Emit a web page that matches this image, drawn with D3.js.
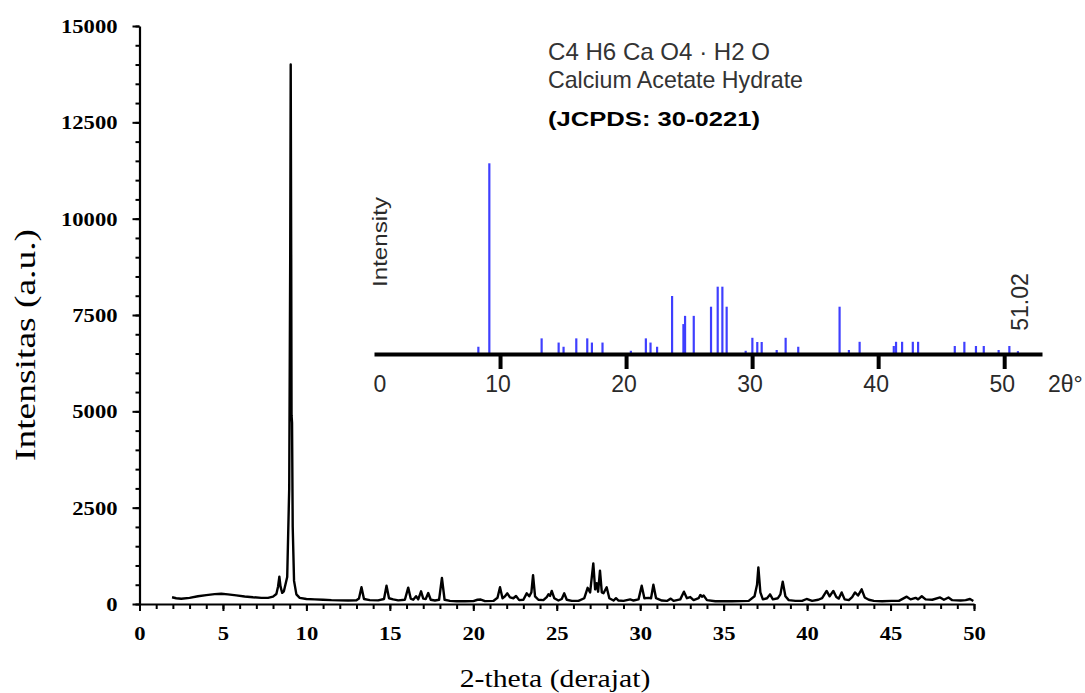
<!DOCTYPE html>
<html>

<head>
    <meta charset="UTF-8">
    <style>
        body {
            margin: 0;
            background-color: white;
        }

        .serif {
            font-family: "Liberation Serif", "Times New Roman", serif;
        }

        .sans {
            font-family: "Liberation Sans", Arial, sans-serif;
        }
    </style>
</head>

<body>
    <svg id="chart"></svg>
    <script src="https://d3js.org/d3.v7.min.js"></script>

    <script>

        let width = 1085, height = 693;

        // measured XRD pattern: [2-theta, counts]
        let pattern = [
            [1.95, 175], [2.2, 150], [2.5, 135], [3.0, 160], [3.5, 200], [4.0, 230], [4.5, 255], [4.9, 265],
            [5.3, 250], [5.8, 225], [6.3, 195], [6.8, 175], [7.3, 160], [7.7, 160], [8.0, 190], [8.2, 260],
            [8.3, 450], [8.38, 710], [8.45, 450], [8.55, 290], [8.65, 330], [8.85, 700], [8.97, 3000],
            [9.03, 9000], [9.06, 14000], [9.09, 9000], [9.11, 4900], [9.14, 4700], [9.18, 2000], [9.26, 600],
            [9.4, 250], [9.6, 160], [10.0, 130], [10.5, 120], [11.0, 110], [11.5, 100], [12.0, 95], [12.5, 90],
            [13.0, 95], [13.15, 140], [13.3, 435], [13.45, 130], [13.8, 100], [14.3, 95], [14.65, 130],
            [14.8, 475], [14.95, 150], [15.2, 120], [15.5, 95], [15.9, 110], [16.1, 425], [16.25, 140],
            [16.4, 110], [16.57, 200], [16.7, 120], [16.87, 330], [17.0, 140], [17.15, 130], [17.3, 285],
            [17.45, 110], [17.7, 90], [17.95, 110], [18.12, 675], [18.28, 110], [18.6, 80], [19.0, 70],
            [19.5, 70], [20.0, 75], [20.25, 110], [20.45, 115], [20.7, 75], [21.2, 80], [21.45, 160],
            [21.6, 435], [21.75, 150], [21.9, 200], [22.04, 277], [22.2, 170], [22.4, 150], [22.56, 208],
            [22.75, 100], [23.0, 110], [23.2, 277], [23.35, 200], [23.48, 300], [23.58, 750], [23.7, 200],
            [23.9, 110], [24.2, 100], [24.4, 180], [24.5, 250], [24.6, 210], [24.7, 340], [24.85, 150],
            [25.1, 90], [25.3, 130], [25.45, 277], [25.6, 110], [25.9, 80], [26.3, 80], [26.65, 150],
            [26.85, 420], [27.0, 300], [27.19, 1055], [27.3, 380], [27.39, 540], [27.48, 320], [27.59, 865],
            [27.7, 300], [27.8, 280], [27.99, 435], [28.15, 150], [28.4, 90], [28.55, 150], [28.7, 90],
            [29.0, 80], [29.4, 120], [29.6, 90], [29.9, 120], [30.09, 475], [30.25, 150], [30.5, 160],
            [30.65, 150], [30.79, 500], [30.95, 150], [31.3, 90], [31.6, 80], [31.83, 140], [32.0, 80],
            [32.4, 120], [32.62, 320], [32.8, 150], [33.0, 180], [33.2, 100], [33.5, 150], [33.6, 235],
            [33.7, 190], [33.8, 220], [34.0, 100], [34.5, 70], [35.0, 70], [35.5, 70], [36.0, 75], [36.5, 80],
            [36.85, 200], [37.0, 500], [37.08, 950], [37.2, 300], [37.35, 120], [37.6, 150], [37.78, 250],
            [37.95, 120], [38.25, 150], [38.4, 250], [38.54, 580], [38.7, 200], [38.9, 100], [39.3, 80],
            [39.7, 80], [39.97, 130], [40.3, 80], [40.67, 110], [40.9, 150], [41.17, 340], [41.35, 200],
            [41.57, 340], [41.75, 180], [41.9, 140], [42.07, 300], [42.25, 120], [42.5, 100], [42.7, 180],
            [42.87, 300], [43.05, 220], [43.27, 380], [43.45, 170], [43.7, 110], [44.0, 80], [44.5, 70],
            [45.06, 80], [45.5, 80], [45.97, 190], [46.2, 120], [46.5, 160], [46.65, 120], [46.87, 200],
            [47.1, 120], [47.5, 110], [47.97, 170], [48.2, 110], [48.47, 170], [48.7, 100], [49.2, 90],
            [49.5, 100], [49.76, 130], [49.96, 80]
        ];

        // JCPDS 30-0221 reference lines (relative intensity, %)
        let refAngles = [8.28, 9.15, 13.30, 14.65, 15.04, 16.05, 16.92, 17.29, 18.13, 20.38, 21.57, 21.94,
            22.46, 23.65, 24.55, 24.68, 25.37, 26.74, 27.27, 27.64, 27.98, 29.49, 30.02, 30.41, 30.76, 31.95,
            32.66, 33.66, 36.94, 37.68, 38.53, 41.24, 41.42, 41.9, 42.75, 43.17, 46.08, 46.84, 47.76, 48.38,
            49.56, 50.41, 51.09];
        let refIntensity = [3.8, 100, 8.2, 6, 3.8, 8.2, 8.2, 6, 6, 1.7, 8.2, 6, 3.8, 30.4, 15.7, 20, 20,
            24.8, 35.3, 35.3, 24.8, 1.7, 8.5, 6.3, 6.3, 2.1, 8.5, 3.8, 24.8, 2.1, 6.4, 4.2, 6.4, 6.4, 6.4,
            6.4, 4.2, 6.4, 4.2, 4.2, 2.1, 4.2, 1.5];

        let xTicks = [0, 5, 10, 15, 20, 25, 30, 35, 40, 45, 50];
        let yTicks = [0, 2500, 5000, 7500, 10000, 12500, 15000];
        let insetTicks = [10, 20, 30, 40, 50];
        let insetLabels = [0, 10, 20, 30, 40, 50];

        let svg = d3.select("#chart")
            .attr("width", width)
            .attr("height", height)

        let x = d3.scaleLinear().domain([0, 50]).range([139.5, 974]);
        let y = d3.scaleLinear().domain([0, 15000]).range([604, 26]);

        // minor ticks first
        svg.append("g")
            .attr("transform", "translate(0,604)")
            .call(d3.axisBottom(x).tickValues(d3.range(0, 51, 1)).tickSize(5).tickSizeOuter(0).tickFormat(""))
            .call(g => g.select(".domain").remove())
            .selectAll("line").attr("stroke-width", 2);

        svg.append("g")
            .attr("transform", "translate(139.5,0)")
            .call(d3.axisLeft(y).tickValues(d3.range(0, 15001, 500)).tickSize(4).tickSizeOuter(0).tickFormat(""))
            .call(g => g.select(".domain").remove())
            .selectAll("line").attr("stroke-width", 2);

        let xAxis = svg.append("g")
            .attr("transform", "translate(0,604)")
            .call(d3.axisBottom(x).tickValues(xTicks).tickSize(7).tickSizeOuter(0).tickFormat(d3.format("d")));

        let yAxis = svg.append("g")
            .attr("transform", "translate(139.5,0)")
            .call(d3.axisLeft(y).tickValues(yTicks).tickSize(7).tickSizeOuter(0).tickFormat(d3.format("d")));

        [xAxis, yAxis].forEach(a => {
            a.select(".domain").attr("stroke-width", 2.2);
            a.selectAll("line").attr("stroke-width", 2);
            a.selectAll("text")
                .attr("class", "serif")
                .attr("font-size", 19)
                .attr("font-weight", "bold")
                .attr("fill", "#000");
        });

        xAxis.selectAll("text")
            .attr("y", 0).attr("dy", 0)
            .attr("transform", "translate(0,36) scale(1.19,1)");

        yAxis.selectAll("text")
            .attr("x", 0).attr("dy", "0.34em")
            .attr("transform", "translate(-22,0) scale(1.19,1)");

        // pattern line
        let line = d3.line()
            .x(d => x(d[0]))
            .y(d => y(d[1]));

        svg.append("path")
            .datum(pattern)
            .attr("d", line)
            .attr("fill", "none")
            .attr("stroke", "#000")
            .attr("stroke-width", 2.4)
            .attr("stroke-linejoin", "round");

        // axis titles
        svg.append("text")
            .attr("class", "serif")
            .attr("font-size", 25)
            .attr("text-anchor", "middle")
            .attr("transform", "translate(555,687) scale(1.19,1)")
            .text("2-theta (derajat)");

        svg.append("text")
            .attr("class", "serif")
            .attr("font-size", 25)
            .attr("text-anchor", "middle")
            .attr("transform", "translate(35,345) rotate(-90) scale(1.5,1.19)")
            .text("Intensitas (a.u.)");

        // ---- inset: reference pattern ----
        let ix = d3.scaleLinear().domain([0, 53]).range([374, 1042]);
        let iy = d3.scaleLinear().domain([0, 100]).range([354, 163.3]);

        svg.append("g")
            .selectAll("line")
            .data(refAngles)
            .enter()
            .append("line")
            .attr("x1", d => ix(d))
            .attr("x2", d => ix(d))
            .attr("y1", iy(0))
            .attr("y2", (d, i) => iy(refIntensity[i]))
            .attr("stroke", "#3f3fff")
            .attr("stroke-width", 2.2);

        let inset = svg.append("g")
            .attr("transform", "translate(0,354)")
            .call(d3.axisBottom(ix).tickValues(insetTicks).tickSize(15).tickSizeOuter(0).tickFormat(""));

        inset.select(".domain").attr("stroke-width", 4);
        inset.selectAll("line").attr("stroke-width", 4);

        svg.append("g")
            .selectAll("text")
            .data(insetLabels)
            .enter()
            .append("text")
            .attr("class", "sans")
            .attr("font-size", 23)
            .attr("fill", "#2a2a2a")
            .attr("text-anchor", "middle")
            .attr("x", d => d == 0 ? ix(d) + 6 : ix(d) - 2)
            .attr("y", 392)
            .text(d => d);

        svg.append("text")
            .attr("class", "sans")
            .attr("font-size", 23)
            .attr("fill", "#2a2a2a")
            .attr("x", 1048)
            .attr("y", 392)
            .text("2θ°");

        svg.append("text")
            .attr("class", "sans")
            .attr("font-size", 23)
            .attr("fill", "#2a2a2a")
            .attr("text-anchor", "middle")
            .attr("transform", "translate(1028,302) rotate(-90)")
            .text("51.02");

        svg.append("text")
            .attr("class", "sans")
            .attr("font-size", 21)
            .attr("fill", "#2a2a2a")
            .attr("text-anchor", "middle")
            .attr("textLength", 90)
            .attr("lengthAdjust", "spacingAndGlyphs")
            .attr("transform", "translate(387,242) rotate(-90)")
            .text("Intensity");

        svg.append("text")
            .attr("class", "sans")
            .attr("font-size", 24)
            .attr("fill", "#333")
            .attr("x", 548)
            .attr("y", 60)
            .attr("textLength", 222)
            .attr("lengthAdjust", "spacingAndGlyphs")
            .text("C4 H6 Ca O4 · H2 O");

        svg.append("text")
            .attr("class", "sans")
            .attr("font-size", 24)
            .attr("fill", "#333")
            .attr("x", 548)
            .attr("y", 88)
            .attr("textLength", 255)
            .attr("lengthAdjust", "spacingAndGlyphs")
            .text("Calcium Acetate Hydrate");

        svg.append("text")
            .attr("class", "sans")
            .attr("font-size", 21)
            .attr("font-weight", "bold")
            .attr("fill", "#000")
            .attr("x", 548)
            .attr("y", 126)
            .attr("textLength", 212)
            .attr("lengthAdjust", "spacingAndGlyphs")
            .text("(JCPDS: 30-0221)");

    </script>

</body>

</html>
